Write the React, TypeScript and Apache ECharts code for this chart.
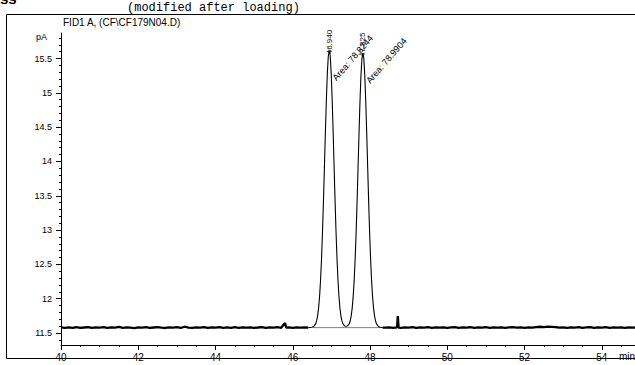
import React, { useEffect, useRef } from "react";
import * as echarts from "echarts";

// Baseline noise before the peaks (time min, signal pA)
const noiseLeft: [number, number][] = [
  [40.0, 11.581], [40.1, 11.574], [40.2, 11.583], [40.3, 11.576], [40.4, 11.585], [40.5, 11.573],
  [40.6, 11.58], [40.7, 11.587], [40.8, 11.575], [40.9, 11.582], [41.0, 11.578], [41.1, 11.586],
  [41.2, 11.574], [41.3, 11.581], [41.4, 11.577], [41.5, 11.588], [41.6, 11.576], [41.7, 11.583],
  [41.8, 11.579], [41.9, 11.572], [42.0, 11.582], [42.1, 11.577], [42.2, 11.585], [42.3, 11.574],
  [42.4, 11.58], [42.5, 11.586], [42.6, 11.578], [42.7, 11.573], [42.8, 11.583], [42.9, 11.577],
  [43.0, 11.584], [43.1, 11.575], [43.2, 11.591], [43.3, 11.579], [43.4, 11.574], [43.5, 11.582],
  [43.6, 11.577], [43.7, 11.585], [43.8, 11.573], [43.9, 11.581], [44.0, 11.578], [44.1, 11.584],
  [44.2, 11.575], [44.3, 11.582], [44.4, 11.576], [44.5, 11.585], [44.6, 11.574], [44.7, 11.581],
  [44.8, 11.578], [44.9, 11.583], [45.0, 11.575], [45.1, 11.58], [45.2, 11.586], [45.3, 11.574],
  [45.4, 11.581], [45.5, 11.577], [45.6, 11.584], [45.7, 11.576], [45.8, 11.645], [45.83, 11.578],
  [45.9, 11.582], [46.0, 11.575], [46.1, 11.581], [46.2, 11.577], [46.3, 11.583], [46.4, 11.578],
];

// The two peaks
const peakTrace: [number, number][] = [
  [46.495, 11.584], [46.545, 11.596], [46.595, 11.637], [46.62, 11.683], [46.645, 11.757],
  [46.67, 11.872], [46.695, 12.041], [46.72, 12.276], [46.745, 12.588], [46.77, 12.975],
  [46.795, 13.43], [46.82, 13.928], [46.845, 14.435], [46.87, 14.903], [46.895, 15.284],
  [46.92, 15.533], [46.945, 15.62], [46.97, 15.533], [46.995, 15.284], [47.02, 14.903],
  [47.045, 14.435], [47.07, 13.928], [47.095, 13.43], [47.12, 12.975], [47.145, 12.588],
  [47.17, 12.276], [47.195, 12.041], [47.22, 11.872], [47.245, 11.757], [47.27, 11.683],
  [47.295, 11.637], [47.345, 11.602], [47.38, 11.598], [47.415, 11.602], [47.465, 11.637],
  [47.49, 11.682], [47.515, 11.756], [47.54, 11.87], [47.565, 12.037], [47.59, 12.27],
  [47.615, 12.578], [47.64, 12.961], [47.665, 13.411], [47.69, 13.905], [47.715, 14.406],
  [47.74, 14.87], [47.765, 15.248], [47.79, 15.494], [47.815, 15.58], [47.84, 15.494],
  [47.865, 15.248], [47.89, 14.87], [47.915, 14.406], [47.94, 13.905], [47.965, 13.411],
  [47.99, 12.961], [48.015, 12.578], [48.04, 12.27], [48.065, 12.037], [48.09, 11.87],
  [48.115, 11.756], [48.14, 11.682], [48.165, 11.637], [48.215, 11.595], [48.265, 11.584],
];

// Baseline noise after the peaks
const noiseRight: [number, number][] = [
  [48.33, 11.578], [48.4, 11.577], [48.5, 11.583], [48.6, 11.574], [48.7, 11.581], [48.72, 11.745],
  [48.74, 11.578], [48.8, 11.575], [48.9, 11.582], [49.0, 11.577], [49.1, 11.584], [49.2, 11.573],
  [49.3, 11.581], [49.4, 11.578], [49.5, 11.585], [49.6, 11.575], [49.7, 11.582], [49.8, 11.577],
  [49.9, 11.583], [50.0, 11.574], [50.1, 11.581], [50.2, 11.586], [50.3, 11.576], [50.4, 11.582],
  [50.5, 11.578], [50.6, 11.584], [50.7, 11.574], [50.8, 11.581], [50.9, 11.577], [51.0, 11.585],
  [51.1, 11.576], [51.2, 11.582], [51.3, 11.578], [51.4, 11.583], [51.5, 11.575], [51.6, 11.581],
  [51.7, 11.586], [51.8, 11.577], [51.9, 11.582], [52.0, 11.575], [52.1, 11.583], [52.2, 11.578],
  [52.3, 11.585], [52.4, 11.591], [52.5, 11.587], [52.6, 11.593], [52.7, 11.589], [52.8, 11.585],
  [52.9, 11.578], [53.0, 11.582], [53.1, 11.576], [53.2, 11.583], [53.3, 11.577], [53.4, 11.584],
  [53.5, 11.575], [53.6, 11.581], [53.7, 11.586], [53.8, 11.576], [53.9, 11.582], [54.0, 11.578],
  [54.1, 11.584], [54.2, 11.575], [54.3, 11.581], [54.4, 11.577], [54.5, 11.583], [54.6, 11.576],
  [54.7, 11.582], [54.8, 11.578], [54.9, 11.581],
];

const integrationBaseline: [number, number][] = [[46.52, 11.578], [48.27, 11.578]];

const peakLabels = [
  { time: 46.945, signal: 15.62, rt: "46.940", area: "Area: 78.8244" },
  { time: 47.815, signal: 15.58, rt: "47.825", area: "Area: 78.9904" },
];

const xTickLabels = [40, 42, 44, 46, 48, 50, 52, 54];
const yTickLabels = [11.5, 12, 12.5, 13, 13.5, 14, 14.5, 15, 15.5];
const xMinorTicks = Array.from({ length: 30 }, (_, i) => 40 + i * 0.5);
const yMinorTicks = Array.from({ length: 45 }, (_, i) => Math.round((11.4 + i * 0.1) * 10) / 10);

const X_MIN = 40;
const X_MAX = 54.86;
const Y_MIN = 11.325;
const Y_MAX = 15.872;

const FONT = "'Liberation Sans', Arial, sans-serif";

export default function App() {
  const ref = useRef<HTMLDivElement>(null);

  useEffect(() => {
    if (!ref.current) return;
    const chart = echarts.init(ref.current, null, { renderer: "svg" });
    const tickLine = { color: "#000", width: 1 };
    const option: any = {
      animation: false,
      backgroundColor: "#fff",
      grid: { left: 61, right: 0, top: 33, bottom: 20, containLabel: false },
      xAxis: [
        {
          type: "value",
          min: X_MIN,
          max: X_MAX,
          axisLine: { show: true, lineStyle: { color: "#000", width: 1 } },
          axisTick: { show: true, length: 5, lineStyle: tickLine, customValues: xTickLabels },
          axisLabel: {
            show: true,
            customValues: xTickLabels,
            color: "#000",
            fontSize: 10,
            fontFamily: FONT,
            margin: 7,
          },
          splitLine: { show: false },
        },
        {
          type: "value",
          min: X_MIN,
          max: X_MAX,
          position: "bottom",
          axisLine: { show: false },
          axisTick: { show: true, length: 2, lineStyle: tickLine, customValues: xMinorTicks },
          axisLabel: { show: false },
          splitLine: { show: false },
        },
      ],
      yAxis: [
        {
          type: "value",
          min: Y_MIN,
          max: Y_MAX,
          axisLine: { show: true, lineStyle: { color: "#000", width: 1 } },
          axisTick: { show: true, length: 5, lineStyle: tickLine, customValues: yTickLabels },
          axisLabel: {
            show: true,
            customValues: yTickLabels,
            color: "#000",
            fontSize: 9,
            fontFamily: FONT,
            margin: 9,
            formatter: (v: number) => String(v),
          },
          splitLine: { show: false },
        },
        {
          type: "value",
          min: Y_MIN,
          max: Y_MAX,
          position: "left",
          axisLine: { show: false },
          axisTick: { show: true, length: 2, lineStyle: tickLine, customValues: yMinorTicks },
          axisLabel: { show: false },
          splitLine: { show: false },
        },
      ],
      series: [
        {
          type: "line",
          data: integrationBaseline,
          showSymbol: false,
          lineStyle: { color: "#808080", width: 1 },
          z: 1,
        },
        {
          type: "line",
          data: noiseLeft,
          showSymbol: false,
          lineStyle: { color: "#000", width: 2.3 },
          z: 2,
        },
        {
          type: "line",
          data: [noiseLeft[noiseLeft.length - 1], ...peakTrace, noiseRight[0]],
          showSymbol: false,
          lineStyle: { color: "#000", width: 1.1 },
          z: 2,
        },
        {
          type: "line",
          data: noiseRight,
          showSymbol: false,
          lineStyle: { color: "#000", width: 2.3 },
          z: 2,
        },
      ],
    };
    chart.setOption(option);

    const graphics: any[] = [
      {
        type: "rect",
        shape: { x: 6.5, y: 14.5, width: 700, height: 344 },
        style: { fill: "none", stroke: "#000", lineWidth: 1 },
        silent: true,
      },
      {
        type: "text",
        x: 127,
        y: 13.5,
        style: {
          text: "(modified after loading)",
          fontFamily: "'Liberation Mono', 'Courier New', monospace",
          fontSize: 12,
          fill: "#000",
          align: "left",
          verticalAlign: "bottom",
        },
      },
      {
        type: "text",
        x: 0,
        y: 6,
        style: {
          text: "ss",
          fontFamily: FONT,
          fontWeight: "bold",
          fontSize: 15,
          fill: "#000",
          align: "left",
          verticalAlign: "bottom",
        },
      },
      {
        type: "text",
        x: 63,
        y: 22,
        style: {
          text: "FID1 A, (CF\\CF179N04.D)",
          fontFamily: FONT,
          fontSize: 10,
          fill: "#000",
          align: "left",
          verticalAlign: "middle",
        },
      },
      {
        type: "text",
        x: 47,
        y: 37,
        style: {
          text: "pA",
          fontFamily: FONT,
          fontSize: 9,
          fill: "#000",
          align: "right",
          verticalAlign: "middle",
        },
      },
      {
        type: "text",
        x: 619,
        y: 356,
        style: {
          text: "min",
          fontFamily: FONT,
          fontSize: 10,
          fill: "#000",
          align: "left",
          verticalAlign: "middle",
        },
      },
    ];

    peakLabels.forEach((p) => {
      const [px, py] = chart.convertToPixel({ xAxisIndex: 0, yAxisIndex: 0 }, [p.time, p.signal]) as number[];
      graphics.push({
        type: "text",
        x: px,
        y: py + 4,
        rotation: Math.PI / 2,
        style: {
          text: p.rt,
          fontFamily: FONT,
          fontSize: 8,
          fill: "#000",
          align: "left",
          verticalAlign: "middle",
        },
      });
      graphics.push({
        type: "text",
        x: px + 5,
        y: py + 29,
        rotation: (49 * Math.PI) / 180,
        style: {
          text: p.area,
          fontFamily: FONT,
          fontSize: 9,
          fill: "#000",
          align: "left",
          verticalAlign: "middle",
        },
      });
    });

    chart.setOption({ graphic: graphics });

    return () => chart.dispose();
  }, []);

  return <div ref={ref} style={{ width: 635, height: 365, position: "absolute", left: 0, top: 0 }} />;
}
